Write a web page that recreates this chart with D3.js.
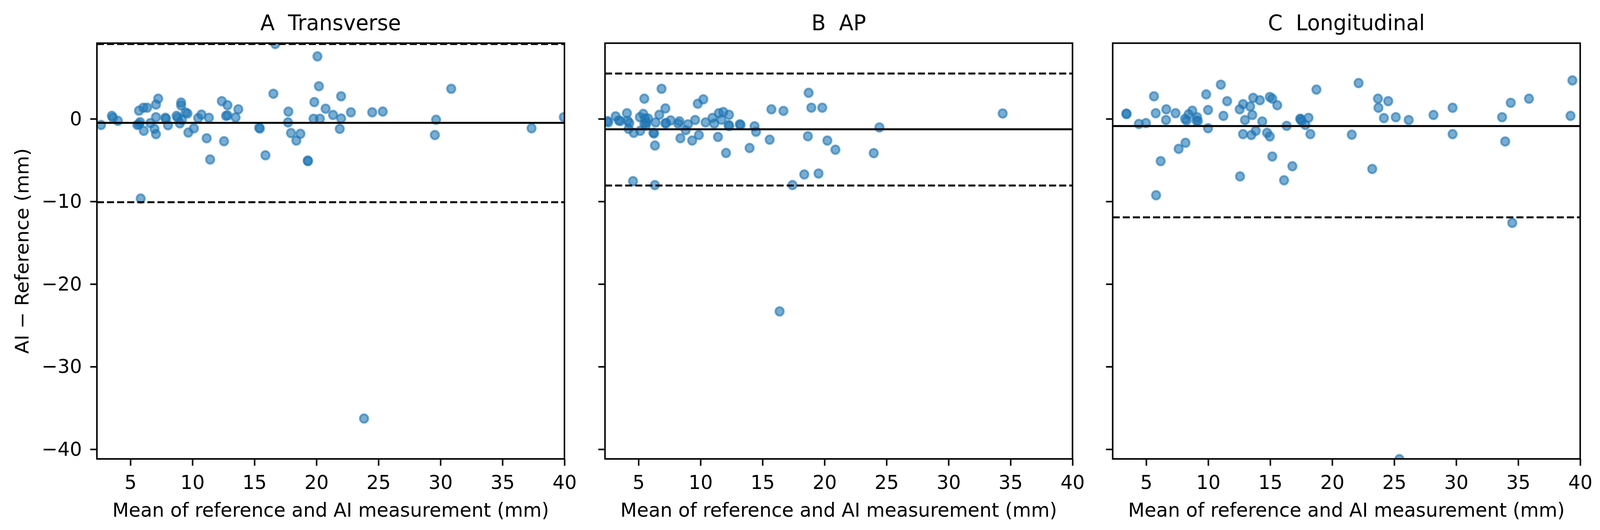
<!DOCTYPE html>
<html>
<head>
<meta charset="utf-8">
<script src="https://cdn.jsdelivr.net/npm/d3@7"></script>
<style>
  html, body { margin: 0; padding: 0; background: #fff; overflow: hidden; }
  svg { display: block; width: 100vw; height: 100vh; font-family: "DejaVu Sans", sans-serif; }
  text { white-space: pre; }
</style>
</head>
<body>
<svg id="chart" viewBox="0 0 4201 1357" preserveAspectRatio="none"></svg>
<script>
// panel titles
const titles = ["A  Transverse", "B  AP", "C  Longitudinal"];

// x = mean of reference and AI, y = AI - reference (mm)
const transversePts = [
  [2.63,-0.74],[3.50,0.36],[3.60,0.13],[3.99,-0.24],[5.69,0.99],[6.05,1.35],[6.35,1.35],[7.06,1.73],
  [7.24,2.44],[5.56,-0.74],[5.78,-0.40],[5.69,-0.66],[6.08,-1.45],[6.61,-0.51],[6.94,-1.21],[7.06,-1.85],
  [7.06,0.20],[7.81,0.13],[7.87,0.01],[8.03,-0.77],[8.72,0.36],[8.82,0.13],[8.99,-0.55],[9.09,1.97],
  [9.09,1.62],[9.15,-0.11],[9.45,0.76],[9.60,0.64],[9.67,-1.66],[10.12,-1.15],[10.46,0.09],[10.73,0.52],
  [11.33,0.13],[11.15,-2.35],[11.43,-4.92],[12.37,2.14],[12.83,1.65],[12.71,0.36],[12.83,0.42],[12.55,-2.71],
  [13.48,0.17],[13.70,1.15],[16.53,3.04],[16.68,9.06],[15.38,-1.06],[15.44,-1.18],[15.89,-4.41],[17.74,0.87],
  [17.71,-0.43],[17.95,-1.72],[18.38,-2.63],[18.71,-1.81],[19.32,-5.12],[19.30,-5.05],[19.83,2.03],[19.77,0.01],
  [20.28,0.01],[20.08,7.56],[20.20,3.95],[20.74,1.23],[5.83,-9.65],[21.34,0.47],[21.99,2.73],[21.99,0.05],
  [21.88,-1.21],[22.78,0.79],[24.50,0.79],[25.35,0.88],[30.87,3.64],[29.65,-0.11],[29.55,-1.96],[37.35,-1.14],
  [39.95,0.20],[23.84,-36.28]
];
const apPts = [
  [2.50,-0.27],[2.56,-0.43],[3.16,0.31],[3.41,-0.19],[3.53,-0.27],[4.07,0.68],[4.13,-0.24],[4.26,-0.51],
  [4.20,-1.21],[4.62,-1.69],[4.56,-7.55],[5.11,0.20],[5.14,-1.45],[5.38,0.60],[5.47,2.44],[5.53,0.05],
  [5.47,-0.58],[5.65,-0.43],[5.77,0.05],[5.59,-0.82],[6.20,-1.69],[6.26,-1.77],[6.38,-0.43],[6.33,-3.23],
  [6.32,-8.02],[6.68,0.49],[6.86,3.64],[7.17,1.26],[7.17,-0.55],[7.23,-0.51],[7.59,-0.19],[8.20,-0.58],
  [8.30,-0.30],[8.38,-2.35],[8.81,-1.37],[8.99,-0.66],[9.33,-2.63],[9.57,-0.14],[9.78,1.83],[10.23,2.36],
  [9.87,-1.96],[10.41,-0.43],[10.97,0.12],[11.11,-0.58],[11.48,0.68],[11.84,0.83],[11.69,-0.11],[12.30,0.49],
  [11.41,-2.19],[12.06,-4.13],[12.26,-0.74],[12.32,-0.87],[13.17,-0.66],[13.23,-0.74],[14.36,-0.90],[14.48,-1.56],
  [13.96,-3.53],[15.72,1.15],[15.58,-2.52],[16.69,0.96],[17.42,-8.02],[18.37,-6.73],[18.72,3.15],[18.94,1.35],
  [18.66,-2.11],[19.52,-6.62],[19.82,1.35],[20.23,-2.63],[20.88,-3.74],[23.97,-4.15],[24.43,-1.04],[34.37,0.65],
  [16.38,-23.31]
];
const longitudinalPts = [
  [3.40,0.63],[3.42,0.58],[4.41,-0.62],[4.98,-0.51],[5.63,2.73],[5.77,0.68],[6.60,-0.14],[6.62,1.15],
  [7.37,0.68],[6.17,-5.12],[5.80,-9.25],[7.62,-3.63],[8.17,-2.90],[8.14,0.01],[8.26,-0.19],[8.42,0.55],
  [8.72,0.99],[9.11,0.20],[9.05,-0.19],[9.17,-0.27],[9.84,2.96],[9.99,1.07],[9.99,-1.14],[11.02,4.14],
  [11.23,0.36],[11.53,2.14],[12.54,1.15],[12.81,1.78],[12.97,-0.14],[12.81,-1.85],[12.57,-6.97],[13.39,1.50],
  [13.56,0.47],[13.48,-1.96],[13.84,-1.45],[13.63,2.54],[14.17,2.25],[14.36,-0.32],[14.75,-1.69],[14.97,-2.13],
  [14.97,2.65],[15.17,2.44],[15.57,1.65],[15.17,-4.56],[16.33,-0.85],[16.79,-5.74],[16.12,-7.44],[17.42,0.01],
  [17.46,-0.05],[17.54,-0.27],[17.84,-0.74],[18.09,0.12],[18.24,-1.85],[18.73,3.54],[21.58,-1.92],[22.13,4.33],
  [23.23,-6.07],[23.69,2.44],[23.73,1.34],[24.52,2.14],[24.17,0.09],[25.13,0.20],[26.17,-0.14],[28.17,0.47],
  [29.71,1.34],[29.71,-1.85],[33.70,0.20],[33.95,-2.74],[34.40,1.94],[35.87,2.44],[34.52,-12.59],[39.37,4.65],
  [39.22,0.36],[25.42,-41.2]
];

// bias (mean difference) and limits of agreement [lower, upper]
const biases = [-0.48, -1.26, -0.87];
const limits = [[-10.1, 9.05], [-8.07, 5.48], [-11.93, 10.19]];

const xTicks = [5, 10, 15, 20, 25, 30, 35, 40];
const yTicks = [0, -10, -20, -30, -40];
const xDomain = [2.3, 40];
const yDomain = [-41.17, 9.16];

const panels = [transversePts, apPts, longitudinalPts];

const svg = d3.select("#chart");
svg.append("rect").attr("width", 4201).attr("height", 1357).attr("fill", "#fff");

const plotW = 1227.5, plotTop = 110.5, plotBottom = 1175;
const lefts = [254.5, 1588.5, 2921.5];

const y = d3.scaleLinear().domain(yDomain).range([plotBottom, plotTop]);

panels.forEach(function(pts, i) {
    const left = lefts[i];
    const x = d3.scaleLinear().domain(xDomain).range([left, left + plotW]);

    svg.append("clipPath").attr("id", "clip" + i)
        .append("rect")
        .attr("x", left).attr("y", plotTop)
        .attr("width", plotW).attr("height", plotBottom - plotTop);

    const g = svg.append("g").attr("clip-path", "url(#clip" + i + ")");

    g.selectAll("circle").data(pts).enter()
        .append("circle")
        .attr("cx", function(d) { return x(d[0]); })
        .attr("cy", function(d) { return y(d[1]); })
        .attr("r", 10.8)
        .attr("fill", "#1f77b4")
        .attr("fill-opacity", 0.6)
        .attr("stroke", "#1f77b4")
        .attr("stroke-opacity", 0.6)
        .attr("stroke-width", 5);

    g.append("line")
        .attr("x1", left).attr("x2", left + plotW)
        .attr("y1", y(biases[i])).attr("y2", y(biases[i]))
        .attr("stroke", "#000").attr("stroke-width", 5);

    g.selectAll("line.loa").data(limits[i]).enter()
        .append("line")
        .attr("class", "loa")
        .attr("x1", left).attr("x2", left + plotW)
        .attr("y1", function(d) { return y(d); })
        .attr("y2", function(d) { return y(d); })
        .attr("stroke", "#000").attr("stroke-width", 5)
        .attr("stroke-dasharray", "18.5,8");

    // x axis
    const gx = svg.append("g")
        .attr("transform", "translate(0," + plotBottom + ")")
        .call(d3.axisBottom(x).tickValues(xTicks).tickSize(17.5).tickPadding(24).tickFormat(d3.format("d")));
    gx.select(".domain").remove();
    gx.selectAll(".tick line").attr("stroke", "#000").attr("stroke-width", 4);
    gx.selectAll(".tick text").attr("font-size", 50).attr("fill", "#000")
        .attr("font-family", "DejaVu Sans");

    // y axis
    const gy = svg.append("g")
        .attr("transform", "translate(" + left + ",0)")
        .call(d3.axisLeft(y).tickValues(yTicks).tickSize(17.5).tickPadding(22).tickFormat(d3.format("d")));
    gy.select(".domain").remove();
    gy.selectAll(".tick line").attr("stroke", "#000").attr("stroke-width", 4);
    gy.selectAll(".tick text").attr("font-size", 50).attr("fill", "#000")
        .attr("font-family", "DejaVu Sans");
    if (i > 0) gy.selectAll(".tick text").remove();

    // spines
    svg.append("rect")
        .attr("x", left).attr("y", plotTop)
        .attr("width", plotW).attr("height", plotBottom - plotTop)
        .attr("fill", "none").attr("stroke", "#000").attr("stroke-width", 4);

    svg.append("text")
        .attr("x", left + plotW / 2).attr("y", 77)
        .attr("text-anchor", "middle")
        .attr("font-size", 55)
        .text(titles[i]);

    svg.append("text")
        .attr("x", left + plotW / 2).attr("y", 1323)
        .attr("text-anchor", "middle")
        .attr("font-size", 50)
        .text("Mean of reference and AI measurement (mm)");
});

svg.append("text")
    .attr("transform", "translate(75," + (plotTop + plotBottom) / 2 + ") rotate(-90)")
    .attr("text-anchor", "middle")
    .attr("font-size", 50)
    .text("AI \u2212 Reference (mm)");
</script>
</body>
</html>
